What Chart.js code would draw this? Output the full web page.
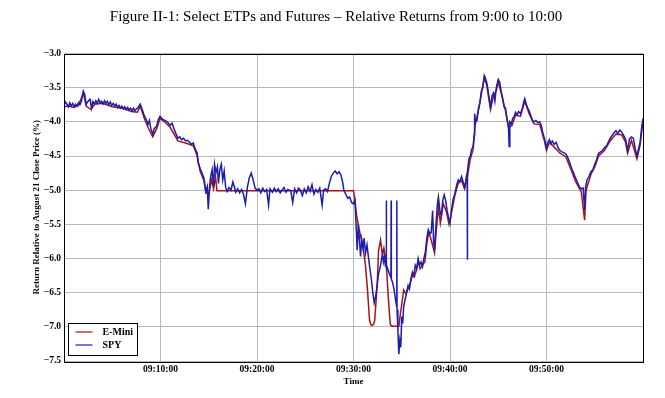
<!DOCTYPE html>
<html>
<head>
<meta charset="utf-8">
<title>Select ETPs and Futures</title>
<script src="https://cdn.jsdelivr.net/npm/chart.js@4/dist/chart.umd.min.js"></script>
<style>
  body { margin: 0; background: #fff; }
</style>
</head>
<body>
<canvas id="chart" width="665" height="398"></canvas>
<script>
// minutes after 9:00, return relative to Aug 21 close (%)
const spyPoints = [
  [0.0,-3.76],[0.15,-3.71],[0.3,-3.74],[0.45,-3.78],[0.6,-3.72],[0.75,-3.77],[0.9,-3.73],[1.05,-3.78],
  [1.2,-3.74],[1.35,-3.77],[1.5,-3.72],[1.65,-3.75],[1.8,-3.70],[2.0,-3.55],
  [2.15,-3.60],[2.3,-3.74],[2.5,-3.70],[2.7,-3.67],[2.85,-3.80],[3.0,-3.70],[3.15,-3.74],[3.3,-3.69],
  [3.45,-3.73],[3.6,-3.67],[3.75,-3.72],[3.9,-3.70],[4.05,-3.74],[4.2,-3.69],[4.35,-3.73],[4.5,-3.70],
  [4.65,-3.75],[4.8,-3.71],[4.95,-3.76],[5.1,-3.73],[5.25,-3.77],[5.4,-3.74],[5.55,-3.79],[5.7,-3.76],
  [5.85,-3.80],[6.0,-3.77],[6.15,-3.81],[6.3,-3.78],[6.45,-3.82],[6.6,-3.79],[6.75,-3.83],[6.9,-3.80],
  [7.05,-3.84],[7.2,-3.80],[7.35,-3.84],[7.5,-3.81],[7.65,-3.80],[7.8,-3.76],[7.9,-3.74],[8.1,-3.82],
  [8.3,-3.90],[8.5,-3.96],[8.7,-4.04],[8.85,-3.98],[9.0,-4.10],[9.2,-4.18],[9.35,-4.10],[9.6,-4.06],
  [9.8,-3.96],[9.95,-3.92],[10.2,-3.96],[10.45,-3.98],[10.7,-4.00],[11.0,-4.05],[11.2,-4.02],[11.5,-4.14],
  [11.8,-4.24],[12.0,-4.22],[12.2,-4.26],[12.4,-4.24],[12.6,-4.28],[12.8,-4.27],[13.0,-4.30],[13.2,-4.33],
  [13.4,-4.31],[13.55,-4.38],[13.8,-4.46],[13.9,-4.60],[14.1,-4.68],[14.3,-4.75],[14.5,-4.82],[14.7,-5.02],
  [14.85,-4.95],[14.95,-5.28],[15.1,-4.92],[15.2,-4.80],[15.35,-4.70],[15.5,-4.95],[15.6,-4.62],[15.75,-4.74],
  [15.9,-4.66],[16.0,-4.90],[16.15,-4.70],[16.3,-4.62],[16.45,-4.85],[16.6,-4.72],[16.75,-4.96],[16.9,-5.02],
  [17.1,-4.96],[17.3,-5.00],[17.5,-4.88],[17.65,-4.95],[17.8,-5.03],[18.0,-4.98],[18.2,-5.04],[18.4,-4.99],
  [18.6,-5.06],[18.8,-5.20],[19.0,-4.96],[19.2,-4.82],[19.4,-4.75],[19.6,-4.85],[19.8,-4.97],[20.0,-5.00],
  [20.2,-4.98],[20.4,-5.04],[20.6,-4.97],[20.8,-5.02],[21.0,-4.99],[21.2,-5.22],[21.35,-4.98],[21.6,-5.03],
  [21.8,-4.97],[22.0,-5.02],[22.2,-4.98],[22.4,-5.04],[22.6,-5.00],[22.8,-4.96],[23.0,-5.03],[23.2,-4.99],
  [23.5,-5.01],[23.7,-5.18],[23.9,-4.98],[24.1,-5.04],[24.3,-4.97],[24.5,-5.00],[24.7,-5.08],[24.9,-4.98],
  [25.1,-5.04],[25.3,-4.95],[25.5,-5.02],[25.7,-4.92],[25.9,-5.06],[26.1,-4.99],[26.3,-5.03],[26.5,-4.97],
  [26.75,-5.22],[26.9,-5.00],[27.1,-4.98],[27.3,-5.02],[27.5,-4.90],[27.7,-4.80],[27.9,-4.75],[28.1,-4.72],
  [28.3,-4.76],[28.5,-4.73],[28.7,-4.78],[28.9,-4.90],[29.0,-5.00],[29.2,-5.06],[29.4,-5.12],[29.6,-5.10],
  [29.8,-5.18],[30.0,-5.20],[30.15,-5.15],[30.3,-5.60],[30.38,-5.88],[30.5,-5.50],[30.6,-5.70],[30.73,-5.97],
  [30.85,-5.72],[31.0,-5.85],[31.1,-5.70],[31.25,-5.92],[31.4,-5.80],[31.55,-5.98],[31.7,-6.15],[31.85,-6.30],
  [32.0,-6.50],[32.15,-6.65],[32.3,-6.55],[32.45,-6.40],[32.6,-6.22],[32.8,-6.10],[33.0,-5.93],[33.1,-6.05],
  [33.2,-5.98],[33.3,-6.10],[33.38,-6.08],[33.40,-5.15],[33.42,-6.10],[33.55,-6.15],[33.7,-6.22],[33.88,-6.28],
  [33.90,-5.15],[33.92,-6.30],[34.05,-6.35],[34.2,-6.45],[34.35,-6.60],[34.47,-6.70],[34.49,-5.15],[34.51,-6.75],
  [34.6,-7.05],[34.7,-7.40],[34.8,-7.20],[34.9,-7.30],[35.0,-6.85],[35.1,-6.95],[35.2,-6.70],[35.35,-6.60],
  [35.5,-6.50],[35.65,-6.40],[35.8,-6.45],[35.95,-6.30],[36.1,-6.20],[36.25,-6.25],[36.4,-6.10],[36.55,-6.15],
  [36.7,-6.00],[36.85,-6.10],[37.0,-6.05],[37.15,-6.12],[37.3,-6.00],[37.45,-5.90],[37.6,-5.70],[37.75,-5.58],
  [37.9,-5.64],[38.05,-5.62],[38.2,-5.30],[38.3,-5.75],[38.4,-5.88],[38.55,-5.50],[38.7,-5.20],[38.8,-5.10],
  [38.95,-5.30],[39.1,-5.38],[39.25,-5.15],[39.4,-5.07],[39.55,-5.15],[39.7,-5.30],[39.85,-5.40],[40.0,-5.48],
  [40.15,-5.30],[40.3,-5.15],[40.5,-5.05],[40.7,-4.92],[40.85,-4.85],[41.0,-4.88],[41.2,-4.80],[41.4,-4.90],
  [41.55,-4.95],[41.7,-4.80],[41.78,-4.75],[41.80,-6.02],[41.82,-4.72],[41.95,-4.55],[42.1,-4.50],[42.25,-4.40],
  [42.4,-4.36],[42.5,-4.20],[42.55,-3.88],[42.65,-4.00],[42.8,-3.98],[42.95,-3.80],[43.1,-3.72],[43.25,-3.55],
  [43.4,-3.50],[43.55,-3.32],[43.65,-3.35],[43.8,-3.42],[43.9,-3.50],[44.05,-3.65],[44.2,-3.78],[44.35,-3.62],
  [44.5,-3.58],[44.65,-3.70],[44.8,-3.50],[45.0,-3.38],[45.15,-3.42],[45.3,-3.55],[45.45,-3.65],[45.6,-3.78],
  [45.75,-3.80],[45.9,-3.95],[46.05,-4.05],[46.13,-4.36],[46.2,-4.00],[46.35,-4.03],[46.5,-3.95],[46.65,-3.92],
  [46.8,-3.86],[46.95,-3.90],[47.1,-3.85],[47.3,-3.88],[47.5,-3.80],[47.65,-3.70],[47.75,-3.66],[47.9,-3.74],
  [48.05,-3.80],[48.2,-3.84],[48.4,-3.92],[48.55,-3.98],[48.7,-4.00],[48.9,-3.98],[49.1,-4.01],[49.3,-4.00],
  [49.45,-4.05],[49.6,-4.15],[49.8,-4.25],[50.0,-4.38],[50.15,-4.30],[50.3,-4.26],[50.45,-4.32],[50.6,-4.28],
  [50.8,-4.33],[51.0,-4.30],[51.2,-4.38],[51.4,-4.42],[51.6,-4.44],[51.8,-4.45],[52.0,-4.47],[52.2,-4.52],
  [52.4,-4.60],[52.6,-4.68],[52.8,-4.75],[53.0,-4.82],[53.2,-4.88],[53.4,-4.95],[53.6,-4.98],[53.8,-4.97],
  [53.95,-5.29],[54.05,-4.95],[54.2,-4.85],[54.4,-4.80],[54.6,-4.73],[54.8,-4.70],[55.0,-4.62],[55.2,-4.55],
  [55.4,-4.46],[55.6,-4.44],[55.8,-4.42],[56.0,-4.38],[56.2,-4.36],[56.4,-4.30],[56.6,-4.24],[56.8,-4.20],
  [57.0,-4.16],[57.2,-4.13],[57.4,-4.17],[57.6,-4.12],[57.8,-4.15],[58.0,-4.20],[58.2,-4.26],[58.4,-4.42],
  [58.6,-4.25],[58.8,-4.22],[59.0,-4.24],[59.2,-4.40],[59.37,-4.50],[59.5,-4.42],[59.7,-4.30],[59.85,-4.10],
  [60.0,-3.95]
];

const eminiPoints = [
  [0.0,-3.78],[0.5,-3.77],[1.0,-3.79],[1.5,-3.76],[2.0,-3.58],[2.3,-3.77],[2.8,-3.82],[3.2,-3.74],
  [4.0,-3.73],[5.0,-3.78],[6.0,-3.80],[7.0,-3.85],[7.6,-3.86],[7.9,-3.77],[8.3,-3.94],[8.7,-4.08],
  [9.2,-4.22],[9.6,-4.10],[9.95,-3.95],[10.5,-4.01],[11.0,-4.08],[11.8,-4.28],[12.6,-4.31],[13.4,-4.35],
  [13.8,-4.50],[14.1,-4.72],[14.5,-4.86],[14.7,-5.04],[15.0,-5.05],[15.3,-4.85],[15.5,-4.98],[15.7,-4.80],
  [15.85,-5.01],[30.0,-5.01],[30.13,-5.12],[30.3,-5.35],[30.55,-5.55],[30.9,-5.78],[31.1,-5.95],[31.25,-6.12],
  [31.45,-6.46],[31.66,-6.90],[31.8,-6.97],[31.95,-6.98],[32.1,-6.96],[32.2,-6.90],[32.35,-6.60],[32.46,-6.36],
  [32.6,-5.88],[32.8,-5.73],[33.0,-5.95],[33.15,-5.85],[33.3,-5.97],[33.45,-6.20],[33.6,-6.56],[33.75,-6.85],
  [33.83,-6.97],[34.0,-6.99],[34.4,-6.99],[34.7,-6.99],[34.87,-6.80],[35.05,-6.62],[35.2,-6.46],[35.45,-6.52],
  [35.7,-6.41],[35.9,-6.35],[36.1,-6.25],[36.3,-6.27],[36.5,-6.18],[36.7,-6.05],[36.9,-6.15],[37.1,-6.10],
  [37.4,-6.05],[37.6,-5.78],[37.8,-5.62],[38.0,-5.70],[38.4,-5.92],[38.6,-5.55],[38.8,-5.25],[39.0,-5.48],
  [39.3,-5.20],[39.6,-5.30],[39.9,-5.50],[40.2,-5.30],[40.5,-5.08],[40.85,-4.90],[41.2,-4.86],[41.5,-4.98],
  [41.8,-4.80],[42.1,-4.55],[42.4,-4.40],[42.6,-4.05],[43.0,-3.80],[43.3,-3.55],[43.55,-3.36],[43.8,-3.46],
  [44.2,-3.82],[44.5,-3.62],[44.8,-3.54],[45.0,-3.41],[45.3,-3.58],[45.75,-3.84],[46.05,-4.08],[46.4,-4.06],
  [46.8,-3.90],[47.3,-3.92],[47.75,-3.70],[48.2,-3.88],[48.7,-4.03],[49.3,-4.04],[49.8,-4.29],[50.0,-4.42],
  [50.3,-4.30],[50.8,-4.37],[51.4,-4.46],[52.0,-4.51],[52.6,-4.72],[53.0,-4.87],[53.6,-5.02],[53.95,-5.44],
  [54.1,-5.00],[54.6,-4.77],[55.0,-4.66],[55.4,-4.50],[56.0,-4.42],[56.6,-4.28],[57.2,-4.18],[57.8,-4.19],
  [58.2,-4.30],[58.4,-4.46],[58.8,-4.27],[59.37,-4.54],[59.7,-4.34],[60.0,-3.98]
];

const seriesNames = ['E-Mini', 'SPY'];
const seriesColors = ['#a31515', '#1c1cb0'];
const xTickValues = [10, 20, 30, 40, 50];
const xTickLabels = ['09:10:00', '09:20:00', '09:30:00', '09:40:00', '09:50:00'];
const yTickValues = [-3.0, -3.5, -4.0, -4.5, -5.0, -5.5, -6.0, -6.5, -7.0, -7.5];

const serif = "'Liberation Serif', 'DejaVu Serif', serif";

// legend box drawn inside the plot, lower left
const boxLegend = {
  id: 'boxLegend',
  afterDatasetsDraw(chart) {
    const { ctx, chartArea } = chart;
    const x = Math.round(chartArea.left + 4) + 0.5;
    const y = Math.round(chartArea.bottom - 38) + 0.5;
    ctx.save();
    ctx.fillStyle = '#fff';
    ctx.fillRect(x, y, 69, 32);
    ctx.strokeStyle = '#000';
    ctx.lineWidth = 1;
    ctx.strokeRect(x, y, 69, 32);
    ctx.font = 'bold 10px ' + serif;
    ctx.textBaseline = 'middle';
    seriesNames.forEach((name, i) => {
      const ly = Math.round(y + 8 + i * 13.5);
      ctx.strokeStyle = seriesColors[i];
      ctx.lineWidth = 1.2;
      ctx.beginPath();
      ctx.moveTo(x + 7, ly);
      ctx.lineTo(x + 24, ly);
      ctx.stroke();
      ctx.fillStyle = '#000';
      ctx.fillText(name, x + 34, ly);
    });
    ctx.restore();
  }
};

// black frame round the plot area
const frame = {
  id: 'frame',
  afterDraw(chart) {
    const { ctx, chartArea: a } = chart;
    ctx.save();
    ctx.strokeStyle = '#000';
    ctx.lineWidth = 1;
    ctx.strokeRect(Math.round(a.left) + 0.5, Math.round(a.top) + 0.5,
      Math.round(a.right - a.left), Math.round(a.bottom - a.top));
    ctx.restore();
  }
};

new Chart(document.getElementById('chart'), {
  type: 'line',
  data: {
    datasets: [
      {
        label: seriesNames[0],
        data: eminiPoints.map(p => ({ x: p[0], y: p[1] })),
        borderColor: seriesColors[0],
        borderWidth: 1.5,
        pointRadius: 0,
        order: 1
      },
      {
        label: seriesNames[1],
        data: spyPoints.map(p => ({ x: p[0], y: p[1] })),
        borderColor: seriesColors[1],
        borderWidth: 1.5,
        pointRadius: 0,
        order: 0
      }
    ]
  },
  options: {
    responsive: false,
    animation: false,
    layout: { padding: { left: 7, right: 0, top: 0, bottom: 0 } },
    plugins: {
      legend: { display: false },
      tooltip: { enabled: false },
      title: {
        display: true,
        text: 'Figure II-1: Select ETPs and Futures \u2013 Relative Returns from 9:00 to 10:00',
        color: '#000',
        font: { family: serif, size: 15, weight: 'normal', lineHeight: 1.2 },
        padding: { top: 8, bottom: 27.5 }
      }
    },
    scales: {
      x: {
        type: 'linear',
        min: 0,
        max: 60,
        afterFit: s => { s.height = 37; },
        afterBuildTicks: s => { s.ticks = xTickValues.map(v => ({ value: v })); },
        ticks: {
          color: '#000',
          padding: 3,
          maxRotation: 0,
          font: { family: serif, size: 9.5, weight: 'bold' },
          callback: (v) => xTickLabels[xTickValues.indexOf(v)]
        },
        grid: { color: '#b8b8b8', lineWidth: 1, drawTicks: false },
        border: { display: false },
        title: {
          display: true,
          text: 'Time',
          color: '#000',
          font: { family: serif, size: 9, weight: 'bold', lineHeight: 1.2 },
          padding: { top: 0, bottom: 11 }
        }
      },
      y: {
        min: -7.5,
        max: -3.0,
        afterFit: s => { s.width = 57; },
        afterBuildTicks: s => { s.ticks = yTickValues.map(v => ({ value: v })); },
        ticks: {
          color: '#000',
          padding: 3,
          font: { family: serif, size: 9.5, weight: 'bold' },
          callback: v => v.toFixed(1).replace('-', '\u2212')
        },
        grid: { color: '#b8b8b8', lineWidth: 1, drawTicks: false },
        border: { display: false },
        title: {
          display: true,
          text: 'Return Relative to August 21 Close Price (%)',
          color: '#000',
          font: { family: serif, size: 9, weight: 'bold', lineHeight: 1.2 },
          padding: { top: 24, bottom: 0 }
        }
      },
      // empty right-hand strip so the plot stops at the same place as the original
      yRight: {
        position: 'right',
        min: -7.5,
        max: -3.0,
        afterFit: s => { s.width = 22; },
        grid: { display: false, drawTicks: false },
        border: { display: false },
        ticks: { display: false }
      }
    }
  },
  plugins: [boxLegend, frame]
});
</script>
</body>
</html>
